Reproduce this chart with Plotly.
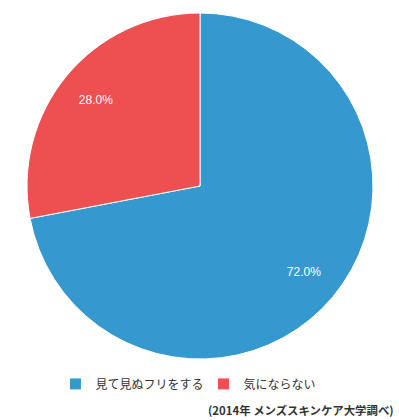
import plotly.graph_objects as go

labels = ["見て見ぬフリをする", "気にならない"]
values = [72.0, 28.0]
colors = ["#3598cf", "#ee4f50"]
source = "(2014年 メンズスキンケア大学調べ)"

fig = go.Figure()
fig.add_trace(go.Pie(
    labels=labels,
    values=values,
    sort=False,
    direction="clockwise",
    rotation=0,
    marker=dict(colors=colors, line=dict(color="#ffffff", width=1)),
    textinfo="none",
    hoverinfo="label+percent",
    showlegend=True,
))
# text-only ring so that the percentage labels sit towards the rim
fig.add_trace(go.Pie(
    labels=labels,
    values=values,
    sort=False,
    direction="clockwise",
    rotation=0,
    hole=0.56,
    marker=dict(colors=["rgba(0,0,0,0)"] * len(values), line=dict(width=0)),
    texttemplate="%{percent:.1%}",
    textposition="inside",
    insidetextorientation="horizontal",
    textfont=dict(color="#ffffff", size=12, family="Liberation Sans, Arial"),
    hoverinfo="skip",
    showlegend=False,
))

fig.update_layout(
    width=399, height=420,
    margin=dict(l=27, r=26, t=13, b=61, autoexpand=False),
    paper_bgcolor="#ffffff",
    plot_bgcolor="#ffffff",
    font=dict(family="Noto Sans CJK JP, sans-serif", color="#333333", size=12),
    showlegend=True,
    legend=dict(
        orientation="h",
        x=0.51, xanchor="center",
        y=-0.072, yanchor="middle",
        font=dict(size=12, color="#333333"),
        itemwidth=30,
        entrywidth=103,
        traceorder="normal",
    ),
    annotations=[dict(
        text="<b>" + source + "</b>",
        xref="paper", yref="paper",
        x=1.066, xanchor="right",
        y=-0.147, yanchor="middle",
        showarrow=False,
        font=dict(size=11.4, color="#333333"),
    )],
)

fig.write_html("out.html", config={"displayModeBar": False},
               post_script="document.body.style.margin='0';")
